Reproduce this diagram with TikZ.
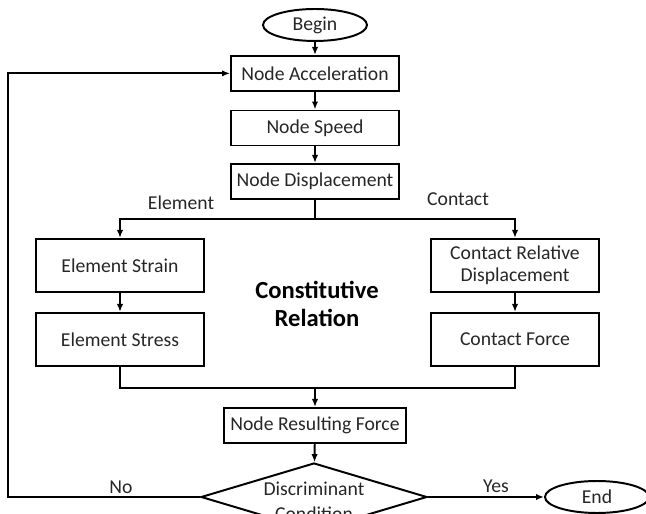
\documentclass[tikz,border=0pt]{standalone}
\usepackage{fontspec}
\setmainfont{Carlito}
\usetikzlibrary{shapes.geometric, arrows.meta, positioning}

\begin{document}
\begin{tikzpicture}[
    every node/.style={font=\fontsize{14}{15.5}\selectfont, text=black!85},
    box/.style={draw, rectangle, line width=1.4pt, minimum width=4.2cm,
                minimum height=0.875cm, inner sep=2pt, align=center},
    tall/.style={box, minimum height=1.325cm},
    term/.style={draw, ellipse, line width=1.4pt, minimum width=2.6cm,
                 minimum height=0.8cm, inner sep=0pt},
    decide/.style={draw, diamond, line width=1.4pt, minimum width=5.65cm,
                   minimum height=1.7cm, inner sep=0pt},
    flow/.style={line width=1.4pt, -{Latex[length=2mm, width=1.6mm]}},
    link/.style={line width=1.4pt}]
      \useasboundingbox (0,0) rectangle (16.15,12.825);
      \clip (0,0) rectangle (16.15,12.825);

      % Main column
      \node (begin) [term] at (7.875,12.2) {Begin};
      \node (acc) [box] at (7.875,10.99) {Node Acceleration};
      \node (speed) [box] at (7.875,9.625) {Node Speed};
      \node (disp) [box] at (7.875,8.29) {Node Displacement};

      % Element branch
      \node (strain) [tall] at (3.0,6.19) {Element Strain};
      \node (stress) [tall] at (3.0,4.34) {Element Stress};

      % Contact branch
      \node (reldisp) [tall] at (12.875,6.19) {Contact Relative\\Displacement};
      \node (cforce) [tall] at (12.875,4.34) {Contact Force};

      \node (rel) [font=\fontsize{17.5}{20}\selectfont\bfseries, text=black, align=center]
            at (7.925,5.225) {Constitutive\\Relation};

      % Merge and check
      \node (result) [box, minimum width=4.55cm] at (7.875,2.19) {Node Resulting Force};
      \node (check) [decide] at (7.85,0.4)
            {\smash{\makebox[0pt]{\raisebox{-0.3cm}{\begin{tabular}{@{}c@{}}Discriminant\\[2pt]Condition\end{tabular}}}}};
      \node (end) [term] at (14.925,0.4) {End};

      % Labels
      \node (elem) at (4.525,7.75) {Element};
      \node (cont) at (11.45,7.85) {Contact};
      \node (no) at (3.025,0.65) {No};
      \node (yes) at (12.4,0.675) {Yes};

      \coordinate (fork) at (7.875,7.35);
      \coordinate (join) at (7.875,3.125);
      \coordinate (back) at (0.2,0.4);

      \draw[flow] (begin) -- (acc);
      \draw[flow] (acc) -- (speed);
      \draw[flow] (speed) -- (disp);
      \draw[link] (disp) -- (fork);
      \draw[flow] (fork) -| (strain);
      \draw[flow] (fork) -| (reldisp);
      \draw[flow] (strain) -- (stress);
      \draw[flow] (reldisp) -- (cforce);
      \draw[link] (stress) |- (join);
      \draw[link] (cforce) |- (join);
      \draw[flow] (join) -- (result);
      \draw[flow] (result) -- (check);
      \draw[flow] (check) -- (end);
      % Loop back when not converged
      \draw[flow] (check) -- (back) |- (acc);
    \end{tikzpicture}
\end{document}
